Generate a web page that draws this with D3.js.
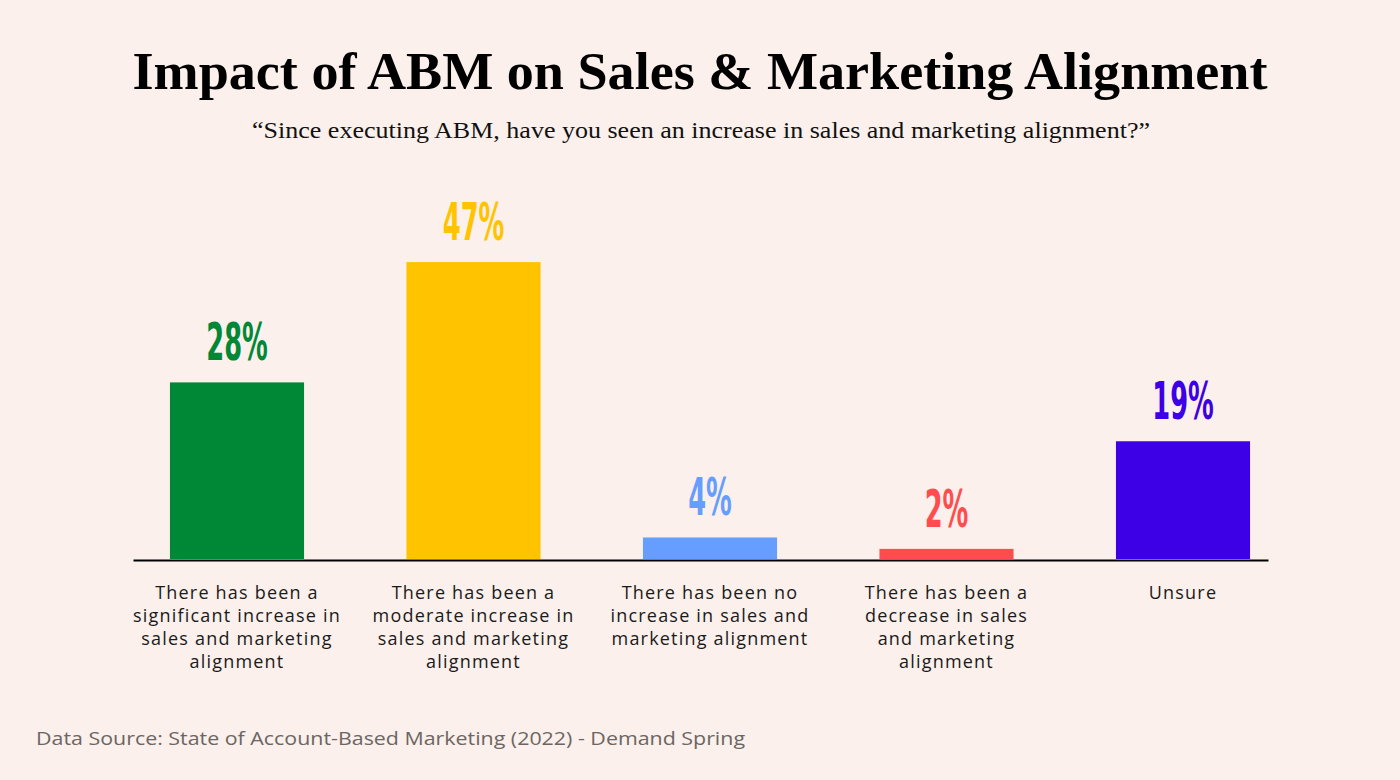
<!DOCTYPE html>
<html>
<head>
<meta charset="utf-8">
<script src="https://cdn.jsdelivr.net/npm/d3@7"></script>
<style>
  html, body { margin: 0; padding: 0; background: #fbf0eb; }
  svg { display: block; }
</style>
</head>
<body>
<svg id="chart" width="1400" height="780"></svg>
<script>
const title = "Impact of ABM on Sales & Marketing Alignment";
const subtitle = "\u201CSince executing ABM, have you seen an increase in sales and marketing alignment?\u201D";
const source = "Data Source: State of Account-Based Marketing (2022) - Demand Spring";

const categories = [
  "There has been a\nsignificant increase in\nsales and marketing\nalignment",
  "There has been a\nmoderate increase in\nsales and marketing\nalignment",
  "There has been no\nincrease in sales and\nmarketing alignment",
  "There has been a\ndecrease in sales\nand marketing\nalignment",
  "Unsure"
];
const values = [27.9, 46.9, 3.4, 1.6, 18.6];
const valueLabels = ["28%", "47%", "4%", "2%", "19%"];
const colors = ["#008837", "#ffc300", "#669eff", "#ff4d4f", "#3d00e6"];

const svg = d3.select("#chart");

const baseline = 559;
const x = d3.scaleBand()
  .domain(d3.range(categories.length))
  .range([118.75, 1301.25])
  .paddingInner(0.433)
  .paddingOuter(0.2165);

const y = d3.scaleLinear().domain([0, 50]).range([baseline, baseline - 316.5]);

// Title
svg.append("text")
  .attr("x", 700).attr("y", 89)
  .attr("text-anchor", "middle")
  .attr("font-family", "'Liberation Serif', 'DejaVu Serif', serif")
  .attr("font-weight", "bold")
  .attr("font-size", 52)
  .attr("fill", "#000")
  .attr("textLength", 1135)
  .attr("lengthAdjust", "spacingAndGlyphs")
  .text(title);

// Subtitle
svg.append("text")
  .attr("x", 701).attr("y", 138)
  .attr("text-anchor", "middle")
  .attr("font-family", "'Liberation Serif', 'DejaVu Serif', serif")
  .attr("font-size", 23)
  .attr("fill", "#111")
  .attr("textLength", 898)
  .attr("lengthAdjust", "spacingAndGlyphs")
  .text(subtitle);

// Bars
svg.append("g").selectAll("rect")
  .data(values)
  .join("rect")
  .attr("x", (d, i) => x(i))
  .attr("y", d => y(d))
  .attr("width", x.bandwidth())
  .attr("height", d => baseline - y(d))
  .attr("fill", (d, i) => colors[i]);

// Value labels
svg.append("g").selectAll("text")
  .data(values)
  .join("text")
  .attr("transform", (d, i) => `translate(${x(i) + x.bandwidth() / 2},${y(d) - 22}) scale(0.56,1)`)
  .attr("text-anchor", "middle")
  .attr("font-family", "'DejaVu Sans Condensed', 'DejaVu Sans', sans-serif")
  .attr("font-stretch", "condensed")
  .attr("font-weight", "bold")
  .attr("font-size", 51)
  .attr("fill", (d, i) => colors[i])
  .text((d, i) => valueLabels[i]);

// Axis line
const axis = d3.axisBottom(d3.scaleLinear().domain([0, 1]).range([133, 1268]))
  .tickValues([]).tickSizeOuter(0);
svg.append("g")
  .attr("transform", `translate(0,${baseline + 1})`)
  .call(axis)
  .call(g => g.select(".domain").attr("stroke", "#000").attr("stroke-width", 2));

// Category labels
const catG = svg.append("g").selectAll("text")
  .data(categories)
  .join("text")
  .attr("text-anchor", "middle")
  .attr("font-family", "'Open Sans', 'Liberation Sans', sans-serif")
  .attr("font-size", 18)
  .attr("letter-spacing", 1.2)
  .attr("fill", "#1a1a1a")
  .attr("transform", (d, i) => `translate(${x(i) + x.bandwidth() / 2},599)`);
catG.selectAll("tspan")
  .data(d => d.split("\n"))
  .join("tspan")
  .attr("x", 0)
  .attr("y", (d, j) => j * 23)
  .text(d => d);

// Source
svg.append("text")
  .attr("x", 36).attr("y", 745)
  .attr("font-family", "'Open Sans', 'Liberation Sans', sans-serif")
  .attr("font-size", 18)
  .attr("fill", "#6b6663")
  .attr("textLength", 709)
  .attr("lengthAdjust", "spacingAndGlyphs")
  .text(source);
</script>
</body>
</html>
